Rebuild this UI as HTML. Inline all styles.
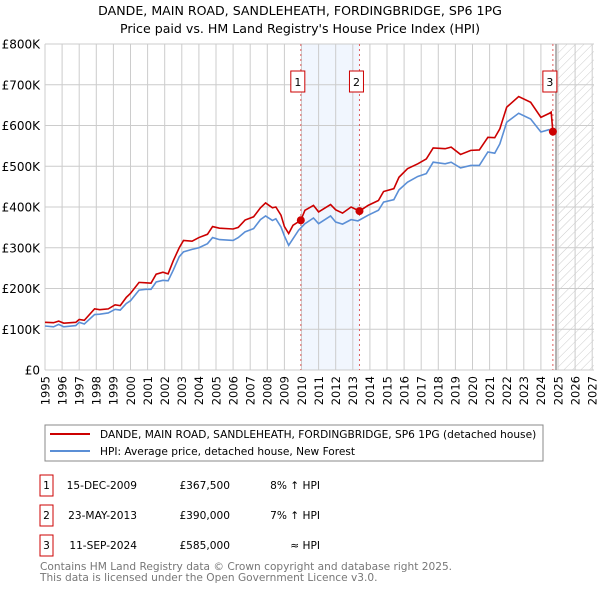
<!DOCTYPE html>
<html><head><meta charset="utf-8"><style>
body{margin:0;background:#fff;}
svg text{font-family:"DejaVu Sans","Liberation Sans",sans-serif;}
</style></head><body>
<svg id="chart" width="600" height="590" viewBox="0 0 600 590" xmlns="http://www.w3.org/2000/svg">
<defs>
<pattern id="hatch" width="6" height="6" patternUnits="userSpaceOnUse" patternTransform="rotate(45)">
<line x1="0" y1="0" x2="0" y2="6" stroke="#ccc" stroke-width="1"/>
</pattern>
</defs>
<text x="300" y="15" text-anchor="middle" font-size="12.6" fill="#000">DANDE, MAIN ROAD, SANDLEHEATH, FORDINGBRIDGE, SP6 1PG</text>
<text x="300" y="33" text-anchor="middle" font-size="12.6" fill="#000">Price paid vs. HM Land Registry's House Price Index (HPI)</text>
<g id="grid"></g>
<g id="marks"></g>
<g id="legend">
<rect x="45" y="425" width="498" height="36" fill="#fff" stroke="#888"/>
<line x1="50" y1="434" x2="90" y2="434" stroke="#cc0000" stroke-width="2"/>
<text x="100" y="438" font-size="10.6">DANDE, MAIN ROAD, SANDLEHEATH, FORDINGBRIDGE, SP6 1PG (detached house)</text>
<line x1="50" y1="451" x2="90" y2="451" stroke="#5b8fd6" stroke-width="2"/>
<text x="100" y="455" font-size="10.6">HPI: Average price, detached house, New Forest</text>
</g>
<g id="table" font-size="10.6">
<rect x="40" y="475" width="13" height="21" fill="#fff" stroke="#cc0000"/>
<text x="46.5" y="489" text-anchor="middle">1</text>
<text x="137" y="489" text-anchor="end">15-DEC-2009</text>
<text x="230" y="489" text-anchor="end">£367,500</text>
<text x="320" y="489" text-anchor="end">8% ↑ HPI</text>
<rect x="40" y="505" width="13" height="21" fill="#fff" stroke="#cc0000"/>
<text x="46.5" y="519" text-anchor="middle">2</text>
<text x="137" y="519" text-anchor="end">23-MAY-2013</text>
<text x="230" y="519" text-anchor="end">£390,000</text>
<text x="320" y="519" text-anchor="end">7% ↑ HPI</text>
<rect x="40" y="535" width="13" height="21" fill="#fff" stroke="#cc0000"/>
<text x="46.5" y="549" text-anchor="middle">3</text>
<text x="137" y="549" text-anchor="end">11-SEP-2024</text>
<text x="230" y="549" text-anchor="end">£585,000</text>
<text x="320" y="549" text-anchor="end">≈ HPI</text>
</g>
<text x="40" y="570" font-size="10.6" fill="#777">Contains HM Land Registry data © Crown copyright and database right 2025.</text>
<text x="40" y="581" font-size="10.6" fill="#777">This data is licensed under the Open Government Licence v3.0.</text>
</svg>
<script>
const yTicks=[0,100,200,300,400,500,600,700,800];
const yTickLabels=["£0","£100K","£200K","£300K","£400K","£500K","£600K","£700K","£800K"];
const years=[1995,1996,1997,1998,1999,2000,2001,2002,2003,2004,2005,2006,2007,2008,2009,2010,2011,2012,2013,2014,2015,2016,2017,2018,2019,2020,2021,2022,2023,2024,2025,2026,2027];
const hpiT=[1995.0,1995.5,1995.8,1996.1,1996.8,1997.0,1997.3,1997.9,1998.2,1998.7,1999.1,1999.4,1999.75,2000.0,2000.5,2000.9,2001.2,2001.5,2001.9,2002.2,2002.5,2002.85,2003.1,2003.6,2004.0,2004.5,2004.8,2005.2,2006.0,2006.3,2006.7,2007.2,2007.6,2007.9,2008.3,2008.5,2008.8,2009.0,2009.25,2009.5,2009.83,2010.2,2010.7,2011.0,2011.7,2012.0,2012.4,2012.9,2013.3,2013.9,2014.5,2014.8,2015.4,2015.7,2016.2,2016.8,2017.3,2017.7,2018.4,2018.75,2019.3,2019.9,2020.4,2020.9,2021.3,2021.6,2022.0,2022.7,2023.4,2024.0,2024.5];
const hpiV=[108,106,112,106,109,117,113,136,137,140,149,147,163,170,196,198,198,216,220,219,245,278,290,296,300,310,325,320,318,325,339,347,369,378,367,371,351,329,306,322,343,359,373,359,378,363,358,369,366,380,392,412,418,442,461,475,482,510,506,510,496,502,502,535,532,555,608,630,616,584,590];
const priceT=[1995.0,1995.5,1995.8,1996.1,1996.8,1997.0,1997.3,1997.9,1998.2,1998.7,1999.1,1999.4,1999.75,2000.0,2000.5,2000.9,2001.2,2001.5,2001.9,2002.2,2002.5,2002.85,2003.1,2003.6,2004.0,2004.5,2004.8,2005.2,2006.0,2006.3,2006.7,2007.2,2007.6,2007.9,2008.3,2008.5,2008.8,2009.0,2009.25,2009.5,2009.96,2010.2,2010.7,2011.0,2011.7,2012.0,2012.4,2012.9,2013.39,2013.9,2014.5,2014.8,2015.4,2015.7,2016.2,2016.8,2017.3,2017.7,2018.4,2018.75,2019.3,2019.9,2020.4,2020.9,2021.3,2021.6,2022.0,2022.7,2023.4,2024.0,2024.5,2024.6,2024.7];
const priceV=[117,116,120,115,117,124,122,150,148,150,160,158,178,188,215,214,213,235,240,236,268,300,318,316,325,333,352,348,346,350,368,376,398,410,398,400,380,352,335,355,367.5,392,404,388,406,393,385,400,390,404,416,438,445,473,494,506,518,545,543,547,529,539,540,571,570,592,645,671,657,620,630,633,585];
const saleT=[2009.96,2013.39,2024.7];
const saleV=[367.5,390,585];
const saleLabels=["1","2","3"];

const X0=45,XS=17.1,YB=370,YS=0.4075,XR=594;
function x(t){return X0+(t-1995)*XS;}
function y(v){return YB-v*YS;}
const NS="http://www.w3.org/2000/svg";
function mk(tag,attrs,parent){const e=document.createElementNS(NS,tag);for(const k in attrs)e.setAttribute(k,attrs[k]);parent.appendChild(e);return e;}
const grid=document.getElementById('grid'),marks=document.getElementById('marks');
let sh=mk('rect',{x:x(saleT[0]),y:y(800),width:x(saleT[1])-x(saleT[0]),height:y(0)-y(800),fill:'#f1f6fe'},grid);


let ht=mk('rect',{x:x(2025),y:y(800),width:XR-x(2025),height:y(0)-y(800),fill:'url(#hatch)'},grid);


yTicks.forEach((v,i)=>{
  let l=mk('line',{x1:X0,x2:XR,y1:y(v),y2:y(v),stroke:'#ccc','stroke-width':1},grid);
  
  
  let t=mk('text',{x:40,y:y(v)+4.5,'text-anchor':'end','font-size':12},grid);
  t.textContent=yTickLabels[i];
  
  
});
years.forEach(yr=>{
  let l=mk('line',{x1:x(yr),x2:x(yr),y1:y(800),y2:y(0),stroke:'#ccc','stroke-width':1},grid);
  
  
  let t=mk('text',{x:0,y:0,'text-anchor':'end','font-size':11.5,transform:`translate(${x(yr)+4.3},376) rotate(-90)`},grid);
  t.textContent=yr;
  
  
});
let nl=mk('line',{x1:x(2025)-2,x2:x(2025)-2,y1:y(800),y2:y(0),stroke:'#999','stroke-width':1.5},grid);


saleT.forEach((t,i)=>{
  let l=mk('line',{x1:x(t),x2:x(t),y1:y(800),y2:y(0),stroke:'#e06060','stroke-width':1,'stroke-dasharray':'2,3'},marks);
  
  
});
let hp=mk('polyline',{points:hpiT.map((t,i)=>x(t)+','+y(hpiV[i])).join(' '),fill:'none',stroke:'#5b8fd6','stroke-width':1.6},marks);


let pp=mk('polyline',{points:priceT.map((t,i)=>x(t)+','+y(priceV[i])).join(' '),fill:'none',stroke:'#cc0000','stroke-width':1.6},marks);


saleT.forEach((t,i)=>{
  let c=mk('circle',{cx:x(t),cy:y(saleV[i]),r:4,fill:'#cc0000'},marks);
  
  
  let r=mk('rect',{x:x(t)-10,y:71,width:14,height:21,fill:'#fff',stroke:'#cc0000'},marks);
  
  
  let tx=mk('text',{x:x(t)-3,y:86,'text-anchor':'middle','font-size':11},marks);
  tx.textContent=saleLabels[i];
  
  
});
</script>
</body></html>
